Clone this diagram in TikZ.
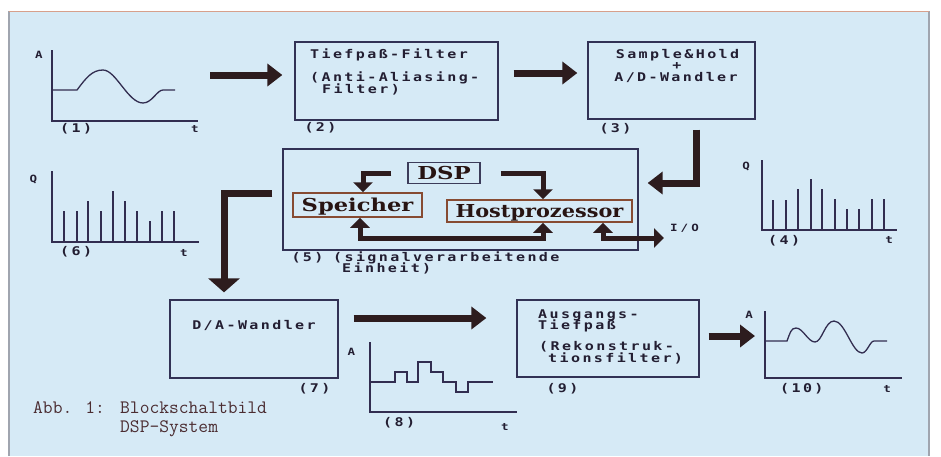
\documentclass[tikz,border=0pt]{standalone}
\usepackage{fontspec}
\usepackage{graphicx}
\usetikzlibrary{arrows.meta,positioning}
\newfontfamily\pixfont{DejaVu Sans Mono}[FakeStretch=1.25, LetterSpace=20]
\newfontfamily\pixsmall{DejaVu Sans Mono}[FakeStretch=1.25, LetterSpace=30]
\newfontfamily\blkfont{DejaVu Serif}
\definecolor{bgblue}{RGB}{214,234,246}
\definecolor{boxline}{RGB}{50,50,85}
\definecolor{axisline}{RGB}{50,45,80}
\definecolor{arrowink}{RGB}{45,28,30}
\definecolor{boxbrown}{RGB}{135,75,50}
\definecolor{boxnavy}{RGB}{60,60,90}
\definecolor{serifink}{RGB}{40,20,18}
\definecolor{monoink}{RGB}{35,30,50}
\definecolor{capink}{RGB}{75,45,50}
\definecolor{framegray}{RGB}{160,165,175}
\definecolor{topline}{RGB}{215,160,140}
\begin{document}
\begin{tikzpicture}[x=1pt, y=-1pt,
  blk/.style={draw=boxline, line width=1.3pt, inner sep=0pt},
  inbox/.style={draw=#1, line width=1.5pt, inner sep=0pt, text=serifink,
    font=\blkfont\bfseries\fontsize{17.8}{18}\selectfont, text height=13pt, text depth=0pt},
  mono/.style={font=\pixfont\bfseries\fontsize{12}{12}\selectfont, text=monoink,
    inner sep=0pt, text height=8pt, text depth=1pt},
  tiny/.style={font=\pixsmall\bfseries\fontsize{10}{10}\selectfont, text=monoink, inner sep=0pt},
  captxt/.style={font=\ttfamily\fontsize{19}{20}\selectfont, text=capink, inner sep=0pt},
  axis/.style={draw=axisline, line width=1.4pt},
  sig/.style={draw=axisline, line width=1.3pt},
  bigarrow/.style={draw=arrowink, line width=7pt, -{Triangle[width=22pt,length=15pt]}},
  smallarrow/.style={draw=arrowink, line width=5pt, -{Triangle[width=19pt,length=10pt]}},
  smallboth/.style={draw=arrowink, line width=5pt,
    {Triangle[width=19pt,length=10pt]}-{Triangle[width=19pt,length=10pt]}}]
\useasboundingbox (0,0) rectangle (941,456);
% Hintergrund und Rahmen
\fill[white] (0,0) rectangle (941,456);
\fill[bgblue] (9,11) rectangle (929,456);
\draw[framegray, line width=1.5pt] (9,456) -- (9,11);
\draw[framegray, line width=1.5pt] (929,11) -- (929,456);
\draw[topline, line width=1pt] (9,11) -- (929,11);

% Bloecke
\node[blk, minimum width=203pt, minimum height=78pt] (filt) at (396.5,81) {};
\node[mono, anchor=base west] (filt1) at (310,58) {Tiefpaß-Filter};
\node[mono, anchor=base west] (filt2) at (310,81.5) {(Anti-Aliasing-};
\node[mono, anchor=base west] (filt3) at (322,93) {Filter)};
\node[mono, below right=3pt and 10pt of filt.south west] (n2) {(2)};

\node[blk, minimum width=167pt, minimum height=77pt] (sh) at (671.5,80.5) {};
\node[mono, anchor=base] (sh1) at (677.5,58) {Sample\&Hold};
\node[mono, anchor=base] (sh2) at (677,69) {+};
\node[mono, anchor=base] (sh3) at (676,81.5) {A/D-Wandler};
\node[mono, below right=4.5pt and 12pt of sh.south west] (n3) {(3)};

\node[blk, minimum width=355pt, minimum height=101pt] (dsys) at (460.5,199.5) {};
\node[inbox=boxnavy, minimum width=72pt, minimum height=21pt] (dsp) at (444,173) {\scalebox{1.28}[1]{DSP}};
\node[inbox=boxbrown, minimum width=129pt, minimum height=24pt] (spk) at (357.5,205) {\scalebox{1.27}[1]{Speicher}};
\node[inbox=boxbrown, minimum width=185pt, minimum height=22pt] (host) at (539.5,211) {\scalebox{1.17}[1]{Hostprozessor}};
\node[mono, below right=3pt and 9pt of dsys.south west] (n5) {(5)};
\node[mono, anchor=base west] (sv1) at (333,261) {(signalverarbeitende};
\node[mono, anchor=base west] (sv2) at (333,272) {\hphantom{(}Einheit)};
\coordinate (ioend) at (664,238);
\node[tiny, anchor=base west] (io) at (670,231) {I/O};

\node[blk, minimum width=168pt, minimum height=78pt] (da) at (254,339) {};
\node[mono, anchor=base] (da1) at (254,329.5) {D/A-Wandler};
\node[mono, below left=6pt and 8pt of da.south east] (n7) {(7)};

\node[blk, minimum width=182pt, minimum height=77pt] (lp) at (608,338.5) {};
\node[mono, anchor=base west] (lp1) at (538,318) {Ausgangs-};
\node[mono, anchor=base west] (lp2) at (538,329) {Tiefpaß};
\node[mono, anchor=base west] (lp3) at (539,350.5) {(Rekonstruk-};
\node[mono, anchor=base west] (lp4) at (539,362) {\hphantom{(}tionsfilter)};
\node[mono, below right=7pt and 30pt of lp.south west] (n9) {(9)};

% Signalverlaeufe
\draw[axis] (52,50) |- (198,121);
\draw[sig] (52,90) -- (77,90) .. controls (86,78) and (92,70) .. (103,70)
  .. controls (116,70) and (128,103) .. (143,103)
  .. controls (152,103) and (157,90) .. (163,90) -- (175,90);
\node[tiny] (g1a) at (39,55) {A};
\node[mono, anchor=base west] (g1n) at (60,132) {(1)};
\node[tiny, anchor=base] (g1t) at (195,132) {t};

\draw[axis] (762,160) |- (897,230);
\foreach \x/\h in {773/200, 786/200, 798/189, 811/179, 822/189, 835/199, 847/209, 859/209, 872/199, 884/199}
  \draw[sig] (\x,230) -- (\x,\h);
\node[tiny] (g4q) at (746,166.5) {Q};
\node[mono, anchor=base west] (g4n) at (768,244) {(4)};
\node[tiny, anchor=base] (g4t) at (889,243) {t};

\draw[axis] (52,171) |- (199,242);
\foreach \x/\h in {64/211, 77/211, 88/201, 101/211, 113/191, 125/201, 137/211, 150/221, 162/211, 174/211}
  \draw[sig] (\x,242) -- (\x,\h);
\node[tiny] (g6q) at (33.5,179.5) {Q};
\node[mono, anchor=base west] (g6n) at (60,255) {(6)};
\node[tiny, anchor=base] (g6t) at (184,256) {t};

\draw[axis] (370,342) |- (517,412);
\draw[sig] (370,382) -- (395,382) -- (395,372) -- (407,372) -- (407,382) -- (418,382)
  -- (418,362) -- (431,362) -- (431,372) -- (443,372) -- (443,382) -- (456,382)
  -- (456,392) -- (468,392) -- (468,382) -- (493,382);
\node[tiny] (g8a) at (351.5,352) {A};
\node[mono, anchor=base west] (g8n) at (383,426) {(8)};
\node[tiny, anchor=base] (g8t) at (505,430) {t};

\draw[axis] (765,311) |- (902,378);
\draw[sig] (765,341) -- (787,341) .. controls (790,333) and (791,328) .. (796,328)
  .. controls (803,328) and (808,342) .. (815,342)
  .. controls (822,342) and (825,321) .. (834,321)
  .. controls (845,321) and (852,353) .. (862,353)
  .. controls (867,353) and (870,341) .. (874,341) -- (887,341);
\node[tiny] (g10a) at (749,315) {A};
\node[mono, anchor=base west] (g10n) at (780,392) {(10)};
\node[tiny, anchor=base] (g10t) at (887,392) {t};

% Pfeile
\coordinate (a1) at (210,75);
\coordinate (a10) at (755,336);
\draw[bigarrow] (a1) -- ([xshift=-12pt,yshift=6pt]filt.west);
\draw[bigarrow] ([xshift=15pt,yshift=8pt]filt.east) -- ([xshift=-10pt,yshift=7.5pt]sh.west);
\draw[bigarrow] ([xshift=24.5pt,yshift=-10pt]sh.south) |- ([xshift=9pt,yshift=16.5pt]dsys.east);
\draw[bigarrow, -{Triangle[width=31pt,length=14pt]}] ([xshift=-10pt,yshift=6.5pt]dsys.west) -| ([xshift=-30pt,yshift=7pt]da.north);
\draw[bigarrow] ([xshift=15pt,yshift=21pt]da.east) -- ([xshift=-30pt,yshift=20.5pt]lp.west);
\draw[bigarrow] ([xshift=9pt,yshift=2.5pt]lp.east) -- (a10);

\draw[smallarrow] ([xshift=-16pt]dsp.west) -| ([xshift=5.5pt]spk.north);
\draw[smallarrow] ([xshift=20pt]dsp.east) -| ([xshift=3.5pt]host.north);
\draw[smallboth] ([xshift=2.5pt]spk.south) -- ++(0,21) -| ([xshift=3.5pt]host.south);
\draw[smallboth] ([xshift=63.5pt]host.south) |- (ioend);

% Bildunterschrift
\node[captxt, anchor=base west] (abb) at (33,413) {Abb. 1:};
\node[captxt, anchor=base west] (cap1) at (120,413) {Blockschaltbild};
\node[captxt, anchor=base west] (cap2) at (120,432) {DSP-System};
\end{tikzpicture}
\end{document}
